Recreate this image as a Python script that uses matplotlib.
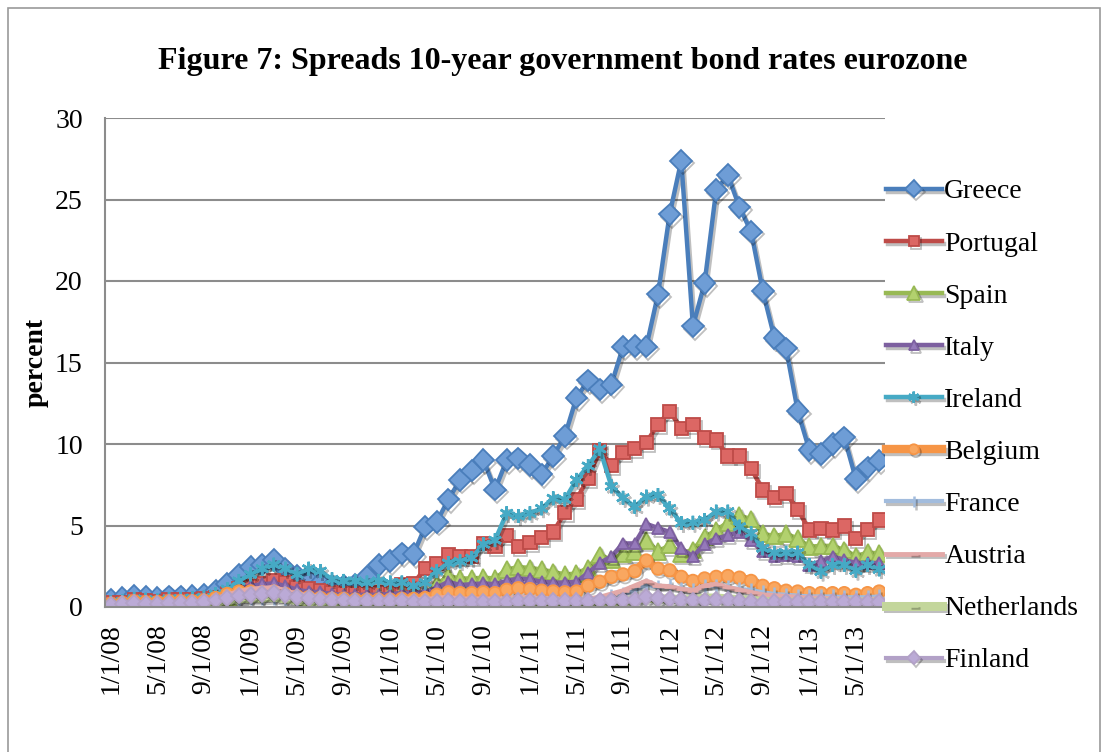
import matplotlib.pyplot as plt
import matplotlib.patheffects as pe
from matplotlib.patches import Rectangle
import numpy as np

# monthly spreads over the German Bund, Jan 2008 - Jul 2013 (percent)
greece = [0.45, 0.55, 0.7, 0.6, 0.55, 0.65, 0.65, 0.7, 0.75, 1.0, 1.4, 1.95,
          2.45, 2.6, 2.9, 2.35, 1.9, 1.6, 1.5, 1.3, 1.3, 1.35, 1.86, 2.58,
          2.82, 3.29, 3.25, 4.93, 5.23, 6.6, 7.8, 8.37, 9.02, 7.2, 9.0, 9.12,
          8.7, 8.14, 9.26, 10.5, 12.85, 13.9, 13.35, 13.65, 15.97, 16.0, 15.97, 19.18,
          24.09, 27.38, 17.22, 19.86, 25.58, 26.5, 24.52, 23.03, 19.39, 16.52, 15.87, 12.04,
          9.63, 9.39, 10.0, 10.41, 7.85, 8.57, 8.98]
portugal = [0.25, 0.3, 0.45, 0.4, 0.35, 0.45, 0.45, 0.45, 0.5, 0.6, 0.85, 1.1,
            1.25, 1.45, 1.65, 1.5, 1.2, 1.1, 1.0, 0.9, 0.8, 0.85, 0.85, 0.9,
            1.1, 1.35, 1.45, 2.37, 2.68, 3.19, 3.09, 3.09, 3.9, 3.7, 4.4, 3.7,
            3.95, 4.25, 4.6, 5.8, 6.6, 7.9, 9.6, 8.7, 9.5, 9.7, 10.1, 11.2,
            12.0, 10.96, 11.2, 10.4, 10.25, 9.26, 9.26, 8.5, 7.18, 6.73, 6.97, 5.99,
            4.72, 4.83, 4.72, 4.97, 4.21, 4.77, 5.34]
spain = [0.1, 0.15, 0.25, 0.2, 0.2, 0.3, 0.3, 0.35, 0.35, 0.45, 0.6, 0.8,
         0.95, 1.05, 1.1, 0.9, 0.75, 0.65, 0.6, 0.6, 0.6, 0.55, 0.55, 0.65,
         0.75, 0.85, 0.8, 0.85, 1.4, 1.9, 1.75, 1.75, 1.8, 1.75, 2.3, 2.45,
         2.4, 2.3, 2.15, 2.0, 2.05, 2.4, 3.2, 2.9, 3.3, 3.4, 4.1, 3.4,
         3.8, 3.3, 3.5, 4.3, 4.7, 5.2, 5.6, 5.4, 4.5, 4.35, 4.5, 4.2,
         3.7, 3.75, 3.75, 3.5, 3.13, 3.33, 3.3]
italy = [0.25, 0.3, 0.4, 0.4, 0.35, 0.4, 0.4, 0.45, 0.5, 0.6, 0.8, 1.15,
         1.3, 1.4, 1.45, 1.3, 1.05, 0.95, 0.9, 0.8, 0.75, 0.75, 0.75, 0.75,
         0.8, 0.85, 0.85, 0.9, 1.2, 1.55, 1.35, 1.4, 1.45, 1.4, 1.6, 1.75,
         1.7, 1.55, 1.5, 1.5, 1.55, 2.1, 2.7, 3.1, 3.9, 3.9, 5.1, 4.85,
         4.6, 3.6, 3.1, 3.85, 4.2, 4.4, 4.6, 4.1, 3.4, 3.1, 3.2, 3.1,
         2.6, 2.8, 3.1, 2.9, 2.7, 2.7, 2.7]
ireland = [0.3, 0.35, 0.5, 0.45, 0.4, 0.5, 0.5, 0.55, 0.6, 0.8, 1.1, 1.6,
           2.0, 2.35, 2.6, 2.35, 2.0, 2.35, 2.2, 1.7, 1.6, 1.6, 1.5, 1.6,
           1.5, 1.5, 1.3, 1.5, 2.2, 2.7, 2.8, 3.0, 3.85, 4.1, 5.75, 5.58,
           5.75, 6.05, 6.67, 6.6, 7.8, 8.65, 9.7, 7.4, 6.7, 6.15, 6.77, 6.87,
           6.05, 5.15, 5.17, 5.34, 5.85, 5.85, 4.93, 4.52, 3.6, 3.33, 3.33, 3.33,
           2.58, 2.17, 2.58, 2.58, 2.23, 2.58, 2.31]
belgium = [0.2, 0.25, 0.35, 0.3, 0.3, 0.35, 0.35, 0.35, 0.4, 0.55, 0.8, 0.95,
           0.95, 0.9, 0.95, 0.8, 0.65, 0.6, 0.55, 0.5, 0.5, 0.45, 0.45, 0.45,
           0.45, 0.5, 0.5, 0.55, 0.75, 0.9, 0.85, 0.85, 0.9, 0.85, 1.05, 1.15,
           1.1, 1.0, 0.95, 0.9, 0.95, 1.3, 1.55, 1.85, 2.0, 2.2, 2.85, 2.35,
           2.25, 1.85, 1.6, 1.75, 1.85, 1.9, 1.8, 1.6, 1.3, 1.15, 1.0, 0.95,
           0.85, 0.85, 0.85, 0.85, 0.75, 0.85, 0.95]
france = [0.1, 0.15, 0.2, 0.15, 0.12, 0.15, 0.15, 0.17, 0.2, 0.3, 0.45, 0.5,
          0.55, 0.55, 0.55, 0.5, 0.4, 0.35, 0.3, 0.3, 0.3, 0.3, 0.3, 0.3,
          0.3, 0.3, 0.3, 0.3, 0.4, 0.45, 0.35, 0.35, 0.35, 0.35, 0.4, 0.45,
          0.45, 0.4, 0.4, 0.35, 0.35, 0.4, 0.5, 0.65, 0.8, 1.0, 1.35, 1.2,
          1.3, 1.1, 1.05, 1.3, 1.3, 1.2, 1.1, 1.05, 0.9, 0.8, 0.75, 0.7,
          0.65, 0.65, 0.65, 0.6, 0.6, 0.6, 0.65]
austria = [0.15, 0.2, 0.25, 0.2, 0.2, 0.2, 0.2, 0.25, 0.3, 0.5, 0.75, 0.95,
           1.1, 1.15, 1.2, 1.0, 0.8, 0.7, 0.6, 0.55, 0.5, 0.45, 0.45, 0.45,
           0.45, 0.5, 0.5, 0.45, 0.55, 0.6, 0.5, 0.5, 0.5, 0.5, 0.5, 0.6,
           0.6, 0.5, 0.5, 0.45, 0.45, 0.5, 0.6, 0.8, 1.0, 1.3, 1.6, 1.3,
           1.25, 1.1, 1.0, 1.3, 1.4, 1.2, 1.05, 0.9, 0.75, 0.7, 0.65, 0.6,
           0.55, 0.55, 0.5, 0.5, 0.45, 0.45, 0.5]
netherlands = [0.1, 0.12, 0.15, 0.15, 0.12, 0.15, 0.15, 0.15, 0.2, 0.3, 0.4, 0.5,
               0.55, 0.55, 0.6, 0.5, 0.4, 0.35, 0.3, 0.3, 0.25, 0.25, 0.25, 0.25,
               0.25, 0.25, 0.25, 0.25, 0.25, 0.25, 0.2, 0.2, 0.25, 0.25, 0.3, 0.35,
               0.35, 0.3, 0.3, 0.3, 0.3, 0.3, 0.35, 0.35, 0.35, 0.4, 0.55, 0.5,
               0.5, 0.45, 0.45, 0.55, 0.55, 0.5, 0.45, 0.4, 0.35, 0.3, 0.3, 0.3,
               0.3, 0.3, 0.3, 0.3, 0.3, 0.3, 0.3]
finland = [0.15, 0.2, 0.25, 0.2, 0.2, 0.25, 0.25, 0.25, 0.3, 0.4, 0.55, 0.7,
           0.75, 0.8, 0.85, 0.75, 0.6, 0.55, 0.5, 0.45, 0.4, 0.35, 0.35, 0.35,
           0.35, 0.35, 0.3, 0.3, 0.3, 0.35, 0.3, 0.3, 0.3, 0.3, 0.3, 0.35,
           0.35, 0.35, 0.35, 0.35, 0.35, 0.35, 0.4, 0.4, 0.4, 0.45, 0.6, 0.55,
           0.5, 0.45, 0.4, 0.4, 0.45, 0.45, 0.35, 0.3, 0.25, 0.3, 0.3, 0.3,
           0.3, 0.3, 0.3, 0.3, 0.3, 0.3, 0.3]

tick_labels = ['1/1/08', '5/1/08', '9/1/08', '1/1/09', '5/1/09', '9/1/09',
               '1/1/10', '5/1/10', '9/1/10', '1/1/11', '5/1/11', '9/1/11',
               '1/1/12', '5/1/12', '9/1/12', '1/1/13', '5/1/13']

# name, values, line colour, line width, marker, marker size, face colour
series = [
    ('Greece', greece, '#4A7EBB', 3.2, 'D', 11, '#6E9DD6'),
    ('Portugal', portugal, '#BE4B48', 3.2, 's', 9.5, '#DC6764'),
    ('Spain', spain, '#98B954', 3.2, '^', 12, '#B2D16E'),
    ('Italy', italy, '#7D60A0', 3.2, '^', 8.5, '#9579BA'),
    ('Ireland', ireland, '#46AAC5', 3.2, (6, 2, 0), 10, '#46AAC5'),
    ('Belgium', belgium, '#F69546', 6.0, 'o', 9, '#F9A760'),
    ('France', france, '#A2BCDD', 3.0, '|', 10, '#A2BCDD'),
    ('Austria', austria, '#E3A9A8', 3.5, '_', 8, '#E3A9A8'),
    ('Netherlands', netherlands, '#C3D69B', 6.5, '_', 8, '#C3D69B'),
    ('Finland', finland, '#B2A1C7', 3.0, 'D', 8, '#BBAAD6'),
]

plt.rcParams['font.family'] = ['Liberation Serif', 'DejaVu Serif']

fig = plt.figure(figsize=(11.08, 7.52), dpi=100)
fig.patches.append(Rectangle((8 / 1108, -0.02), 1092 / 1108, 1.02 - 8 / 752,
                             transform=fig.transFigure, fill=False,
                             edgecolor='#9A9A9A', linewidth=1.2))

ax = fig.add_axes([105 / 1108, 145 / 752, 780 / 1108, 489 / 752])
x = np.arange(len(greece))

shadow = [pe.SimpleLineShadow(offset=(1.5, -2), shadow_color='k', alpha=0.25),
          pe.Normal()]
for name, vals, col, lw, mk, ms, face in series:
    mew = 1.8 if mk in ('|', '_', (6, 2, 0)) else 1.3
    ax.plot(x, vals, color=col, lw=lw, marker=mk, ms=ms, mfc=face, mec=col,
            mew=mew, label=name, path_effects=shadow, solid_joinstyle='round')

ax.set_xlim(-0.5, len(greece) - 0.5)
ax.set_ylim(0, 30)
ax.set_yticks(range(0, 31, 5))
ax.set_xticks(x[::4])
ax.set_xticklabels(tick_labels, rotation=90)
ax.tick_params(axis='both', length=0, labelsize=20)
ax.tick_params(axis='y', pad=16)
ax.tick_params(axis='x', pad=12)
ax.grid(axis='y', color='#8C8C8C', lw=1.5)
ax.set_axisbelow(True)
for side in ('top', 'right'):
    ax.spines[side].set_visible(False)
for side in ('left', 'bottom'):
    ax.spines[side].set_color('#8C8C8C')
    ax.spines[side].set_linewidth(1.5)

fig.text(563 / 1108, 1 - 61 / 752,
         'Figure 7: Spreads 10-year government bond rates eurozone',
         ha='center', va='center', fontsize=23, fontweight='bold')
fig.text(36 / 1108, 1 - 362 / 752, 'percent', rotation=90, ha='center',
         va='center', fontsize=20, fontweight='bold')

fig.legend(loc='upper left', bbox_to_anchor=(886 / 1108, 1 - 179 / 752),
           frameon=False, fontsize=20, handlelength=2.0, handletextpad=0.1,
           labelspacing=0.96, borderpad=0, borderaxespad=0, markerscale=0.8)

fig.savefig('out.png', dpi=100)
